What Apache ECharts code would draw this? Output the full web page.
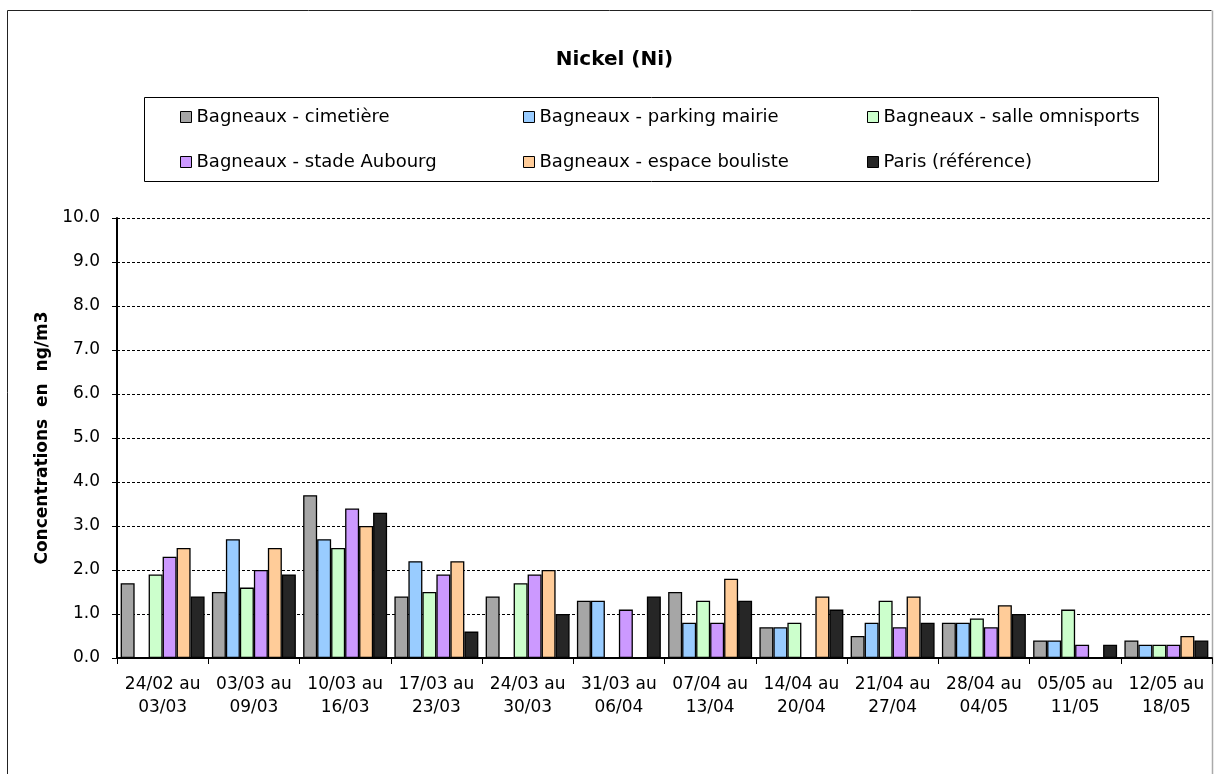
<!DOCTYPE html>
<html><head><meta charset="utf-8">
<script src="https://cdn.jsdelivr.net/npm/echarts@6/dist/echarts.min.js"></script>
<style>html,body{margin:0;padding:0;background:#fff}#c{width:1229px;height:774px}</style>
</head><body><div id="c"></div>
<script>
const categories = ["24/02 au\n03/03","03/03 au\n09/03","10/03 au\n16/03","17/03 au\n23/03","24/03 au\n30/03","31/03 au\n06/04","07/04 au\n13/04","14/04 au\n20/04","21/04 au\n27/04","28/04 au\n04/05","05/05 au\n11/05","12/05 au\n18/05"];
const seriesNames = ["Bagneaux - cimetière","Bagneaux - parking mairie","Bagneaux - salle omnisports","Bagneaux - stade Aubourg","Bagneaux - espace bouliste","Paris (référence)"];
const cimetiere = [1.7,1.5,3.7,1.4,1.4,1.3,1.5,0.7,0.5,0.8,0.4,0.4];
const parking   = [null,2.7,2.7,2.2,null,1.3,0.8,0.7,0.8,0.8,0.4,0.3];
const salle     = [1.9,1.6,2.5,1.5,1.7,null,1.3,0.8,1.3,0.9,1.1,0.3];
const stade     = [2.3,2.0,3.4,1.9,1.9,1.1,0.8,null,0.7,0.7,0.3,0.3];
const bouliste  = [2.5,2.5,3.0,2.2,2.0,null,1.8,1.4,1.4,1.2,null,0.5];
const paris     = [1.4,1.9,3.3,0.6,1.0,1.4,1.3,1.1,0.8,1.0,0.3,0.4];
const yTicks = {min:0, max:10, interval:1};

const allData = [cimetiere, parking, salle, stade, bouliste, paris];
const colors = ["#A6A6A6","#99CCFF","#CCFFCC","#CC99FF","#FFCC99","#262626"];
const legendPos = [[180,108],[523,108],[867,108],[180,153],[523,153],[867,153]];
const FONT = "DejaVu Sans, Liberation Sans, sans-serif";

const chart = echarts.init(document.getElementById('c'), null, {renderer:'canvas'});
chart.setOption({
  animation:false,
  title:{text:"Nickel (Ni)", left:'center', top:45, textStyle:{fontFamily:FONT, fontSize:20, fontWeight:'bold', color:'#000'}},
  legend: seriesNames.map((n,i)=>({
    data:[n], left:legendPos[i][0], top:legendPos[i][1], padding:0, itemWidth:11, itemHeight:11, itemGap:0,
    icon:'rect', selectedMode:false,
    textStyle:{fontFamily:FONT, fontSize:18, color:'#000', padding:0},
    itemStyle:{borderColor:'#000', borderWidth:1}
  })),
  graphic:[
    {type:'line', shape:{x1:7.5,y1:10.5,x2:1211.5,y2:10.5}, style:{stroke:'#222', lineWidth:1}, silent:true},
    {type:'line', shape:{x1:7.5,y1:10.5,x2:7.5,y2:774}, style:{stroke:'#222', lineWidth:1}, silent:true},
    {type:'line', shape:{x1:1212.5,y1:10.5,x2:1212.5,y2:774}, style:{stroke:'#aaa', lineWidth:1.5}, silent:true},
    {type:'rect', shape:{x:144.5,y:97.5,width:1014,height:84}, style:{fill:null, stroke:'#000', lineWidth:1}, silent:true}
  ],
  grid:{left:117, right:17, top:218, bottom:116, containLabel:false},
  xAxis:{type:'category', data:categories, boundaryGap:true,
    axisLine:{lineStyle:{color:'#000', width:2}},
    axisTick:{show:true, alignWithLabel:false, length:6, lineStyle:{color:'#000'}},
    axisLabel:{fontFamily:FONT, fontSize:17, color:'#000', lineHeight:23, margin:15, interval:0}
  },
  yAxis:{type:'value', min:yTicks.min, max:yTicks.max, interval:yTicks.interval,
    name:"Concentrations  en  ng/m3", nameLocation:'middle', nameGap:64, nameRotate:90,
    nameTextStyle:{fontFamily:FONT, fontSize:17, fontWeight:'bold', color:'#000'},
    axisLine:{show:true, lineStyle:{color:'#000', width:2}},
    axisTick:{show:true, length:5, lineStyle:{color:'#000'}},
    axisLabel:{fontFamily:FONT, fontSize:17, color:'#000', margin:17, formatter:v=>v.toFixed(1)},
    splitLine:{show:true, lineStyle:{color:'#000', type:[3,2], width:1}}
  },
  series: allData.map((d,i)=>({
    name:seriesNames[i], type:'bar', data:d, barGap:'0%', barCategoryGap:'8%',
    itemStyle:{color:colors[i], borderColor:'#000', borderWidth:1.3}
  }))
});
</script></body></html>
